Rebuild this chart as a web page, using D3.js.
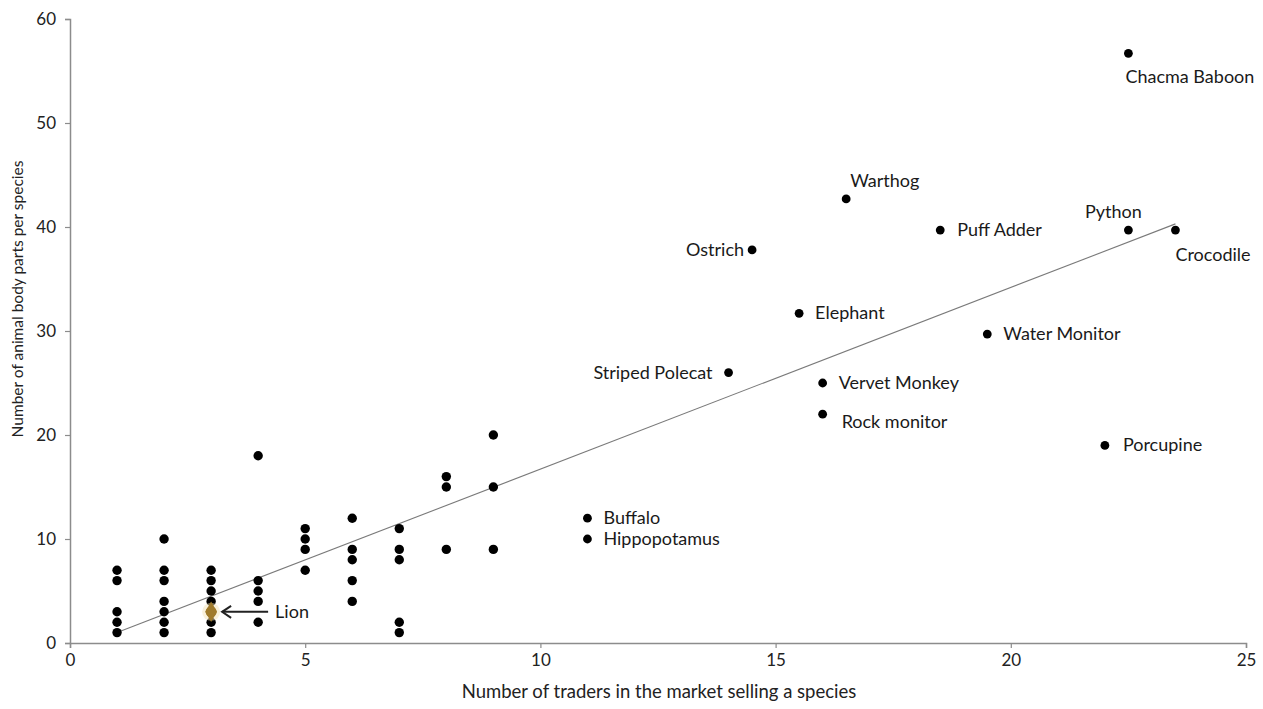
<!DOCTYPE html>
<html>
<head>
<meta charset="utf-8">
<script src="https://cdn.jsdelivr.net/npm/d3@7/dist/d3.min.js"></script>
<style>
  html, body { margin: 0; padding: 0; background: #fff; }
  svg { display: block; font-family: Lato, "Open Sans", sans-serif; }
</style>
</head>
<body>
<svg id="chart" width="1263" height="709"></svg>
<script>
// ---- Data ----
// Unlabelled points: traders (x) and body parts (y)
const clusterX = [1,1,1,1,1, 2,2,2,2,2,2,2, 3,3,3,3,3,3, 4,4,4,4,4, 5,5,5,5, 6,6,6,6,6, 7,7,7,7,7, 8,8,8, 9,9,9];
const clusterY = [7,6,3,2,1, 10,7,6,4,3,2,1, 7,6,5,4,2,1, 18,6,5,4,2, 11,10,9,7, 12,9,8,6,4, 11,9,8,2,1, 16,15,9, 20,15,9];

// Labelled species
const speciesNames = ["Chacma Baboon","Warthog","Python","Crocodile","Puff Adder","Ostrich","Elephant","Water Monitor","Striped Polecat","Vervet Monkey","Rock monitor","Porcupine","Buffalo","Hippopotamus"];
const speciesX = [22.5, 16.5, 22.5, 23.5, 18.5, 14.5, 15.5, 19.5, 14, 16, 16, 22, 11, 11];
const speciesY = [56.7, 42.7, 39.7, 39.7, 39.7, 37.8, 31.7, 29.7, 26, 25, 22, 19, 12, 10];

// Highlighted species
const lionName = "Lion";
const lionX = 3;
const lionY = 3;

// Trend line end points
const trendX = [1, 23.5];
const trendY = [1.0, 40.3];

// Ticks and titles
const xTicks = [0, 5, 10, 15, 20, 25];
const yTicks = [0, 10, 20, 30, 40, 50, 60];
const xTitle = "Number of traders in the market selling a species";
const yTitle = "Number of animal body parts per species";

// ---- Label placement (style only) ----
const labelPlace = {
  "Chacma Baboon": {dx: -3, dy: 30, anchor: "start"},
  "Warthog": {dx: 4, dy: -12, anchor: "start"},
  "Python": {dx: -15, dy: -12, anchor: "middle"},
  "Crocodile": {dx: 0, dy: 31, anchor: "start"},
  "Puff Adder": {dx: 17, dy: 6, anchor: "start"},
  "Ostrich": {dx: -8, dy: 6, anchor: "end"},
  "Elephant": {dx: 16, dy: 6, anchor: "start"},
  "Water Monitor": {dx: 16, dy: 6, anchor: "start"},
  "Striped Polecat": {dx: -16, dy: 6, anchor: "end"},
  "Vervet Monkey": {dx: 16, dy: 6, anchor: "start"},
  "Rock monitor": {dx: 19, dy: 14, anchor: "start"},
  "Porcupine": {dx: 18, dy: 6, anchor: "start"},
  "Buffalo": {dx: 16, dy: 6, anchor: "start"},
  "Hippopotamus": {dx: 16, dy: 6, anchor: "start"}
};

// ---- Drawing ----
const svg = d3.select("#chart");
const x = d3.scaleLinear().domain([0, 25]).range([70, 1246]);
const y = d3.scaleLinear().domain([0, 60]).range([643, 19]);

const axisColor = "#8c8c8c";

// X axis
const xAxis = svg.append("g")
  .attr("transform", `translate(0,${y(0)})`)
  .call(d3.axisBottom(x).tickValues(xTicks).tickSize(5).tickPadding(6).tickFormat(d3.format("d")));
xAxis.select(".domain").attr("stroke", axisColor).attr("stroke-width", 1.5);
xAxis.selectAll(".tick line").attr("stroke", axisColor).attr("stroke-width", 1.2);
xAxis.selectAll(".tick text").attr("font-size", 17).attr("fill", "#222").attr("font-family", "Lato, sans-serif");

// Y axis
const yAxis = svg.append("g")
  .attr("transform", `translate(${x(0)},0)`)
  .call(d3.axisLeft(y).tickValues(yTicks).tickSize(5).tickPadding(9).tickFormat(d3.format("d")));
yAxis.select(".domain").attr("stroke", axisColor).attr("stroke-width", 1.5);
yAxis.selectAll(".tick line").attr("stroke", axisColor).attr("stroke-width", 1.2);
yAxis.selectAll(".tick text").attr("font-size", 17).attr("fill", "#222").attr("font-family", "Lato, sans-serif");

// Axis titles
svg.append("text")
  .attr("x", 659).attr("y", 698)
  .attr("text-anchor", "middle")
  .attr("font-size", 18.5).attr("fill", "#222")
  .text(xTitle);
svg.append("text")
  .attr("transform", `translate(23,${299}) rotate(-90)`)
  .attr("text-anchor", "middle")
  .attr("font-size", 15.5).attr("fill", "#222")
  .text(yTitle);

// Trend line
svg.append("line")
  .attr("x1", x(trendX[0])).attr("y1", y(trendY[0]))
  .attr("x2", x(trendX[1])).attr("y2", y(trendY[1]))
  .attr("stroke", "#7a7a7a").attr("stroke-width", 1.1);

// Cluster points
const cluster = clusterX.map((d, i) => ({x: d, y: clusterY[i]}));
svg.append("g").selectAll("circle").data(cluster).join("circle")
  .attr("cx", d => x(d.x)).attr("cy", d => y(d.y)).attr("r", 4.7).attr("fill", "#000");

// Species points and labels
const species = speciesNames.map((n, i) => ({name: n, x: speciesX[i], y: speciesY[i]}));
svg.append("g").selectAll("circle").data(species).join("circle")
  .attr("cx", d => x(d.x)).attr("cy", d => y(d.y)).attr("r", 4.4).attr("fill", "#000");
svg.append("g").selectAll("text").data(species).join("text")
  .attr("x", d => x(d.x) + labelPlace[d.name].dx)
  .attr("y", d => y(d.y) + labelPlace[d.name].dy)
  .attr("text-anchor", d => labelPlace[d.name].anchor)
  .attr("font-size", 18).attr("fill", "#1a1a1a")
  .text(d => d.name);

// Lion
svg.append("circle")
  .attr("cx", x(lionX)).attr("cy", y(lionY)).attr("r", 9)
  .attr("fill", "#f3e3b8").attr("opacity", 0.5);
svg.append("path")
  .attr("d", d3.symbol().type(d3.symbolDiamond).size(120)())
  .attr("transform", `translate(${x(lionX)},${y(lionY)})`)
  .attr("fill", "#a07b2c");
svg.append("circle")
  .attr("cx", x(lionX)).attr("cy", y(lionY)).attr("r", 5.5)
  .attr("fill", "#a07b2c");

// Arrow to lion
const ax0 = x(lionX) + 57, ax1 = x(lionX) + 11, ay = y(lionY);
svg.append("line")
  .attr("x1", ax0).attr("y1", ay).attr("x2", ax1).attr("y2", ay)
  .attr("stroke", "#222").attr("stroke-width", 2);
svg.append("path")
  .attr("d", `M${ax1 + 9},${ay - 6} L${ax1},${ay} L${ax1 + 9},${ay + 6}`)
  .attr("fill", "none").attr("stroke", "#222").attr("stroke-width", 2);
svg.append("text")
  .attr("x", x(lionX) + 64).attr("y", ay + 6)
  .attr("font-size", 18).attr("fill", "#1a1a1a")
  .text(lionName);
</script>
</body>
</html>
